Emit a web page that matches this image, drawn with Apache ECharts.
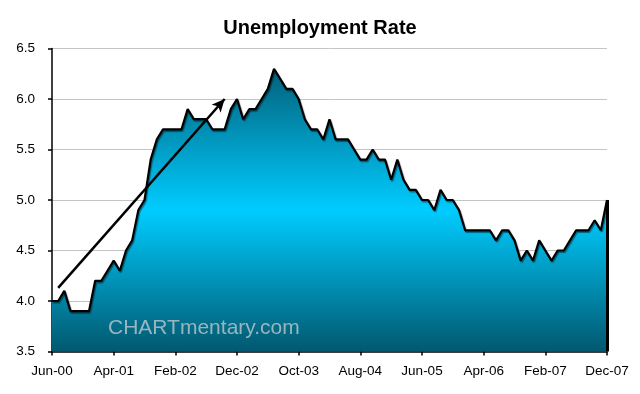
<!DOCTYPE html>
<html>
<head>
<meta charset="utf-8">
<script src="https://cdn.jsdelivr.net/npm/echarts@6/dist/echarts.min.js"></script>
<style>
html,body{margin:0;padding:0;background:#fff;}
#chart{width:640px;height:394px;}
</style>
</head>
<body>
<div id="chart"></div>
<script>
const months = ['Jun-00','Jul-00','Aug-00','Sep-00','Oct-00','Nov-00','Dec-00',
'Jan-01','Feb-01','Mar-01','Apr-01','May-01','Jun-01','Jul-01','Aug-01','Sep-01','Oct-01','Nov-01','Dec-01',
'Jan-02','Feb-02','Mar-02','Apr-02','May-02','Jun-02','Jul-02','Aug-02','Sep-02','Oct-02','Nov-02','Dec-02',
'Jan-03','Feb-03','Mar-03','Apr-03','May-03','Jun-03','Jul-03','Aug-03','Sep-03','Oct-03','Nov-03','Dec-03',
'Jan-04','Feb-04','Mar-04','Apr-04','May-04','Jun-04','Jul-04','Aug-04','Sep-04','Oct-04','Nov-04','Dec-04',
'Jan-05','Feb-05','Mar-05','Apr-05','May-05','Jun-05','Jul-05','Aug-05','Sep-05','Oct-05','Nov-05','Dec-05',
'Jan-06','Feb-06','Mar-06','Apr-06','May-06','Jun-06','Jul-06','Aug-06','Sep-06','Oct-06','Nov-06','Dec-06',
'Jan-07','Feb-07','Mar-07','Apr-07','May-07','Jun-07','Jul-07','Aug-07','Sep-07','Oct-07','Nov-07','Dec-07'];

const unemploymentRate = [4.0,4.0,4.1,3.9,3.9,3.9,3.9,
4.2,4.2,4.3,4.4,4.3,4.5,4.6,4.9,5.0,5.4,5.6,5.7,
5.7,5.7,5.7,5.9,5.8,5.8,5.8,5.7,5.7,5.7,5.9,6.0,
5.8,5.9,5.9,6.0,6.1,6.3,6.2,6.1,6.1,6.0,5.8,5.7,
5.7,5.6,5.8,5.6,5.6,5.6,5.5,5.4,5.4,5.5,5.4,5.4,
5.2,5.4,5.2,5.1,5.1,5.0,5.0,4.9,5.1,5.0,5.0,4.9,
4.7,4.7,4.7,4.7,4.7,4.6,4.7,4.7,4.6,4.4,4.5,4.4,
4.6,4.5,4.4,4.5,4.5,4.6,4.7,4.7,4.7,4.8,4.7,5.0];

const tickLabels = ['Jun-00','Apr-01','Feb-02','Dec-02','Oct-03','Aug-04','Jun-05','Apr-06','Feb-07','Dec-07'];

const yMin = 3.5, yMax = 6.5, yStep = 0.5;

// trend arrow annotation (category index, value)
const arrowStart = [1, 4.13];
const arrowEnd = [28, 6.0];

const FONT = 'Arial, "Liberation Sans", sans-serif';
const chart = echarts.init(document.getElementById('chart'), null, {renderer: 'canvas'});
const lastIdx = months.length - 1;

chart.setOption({
  animation: false,
  backgroundColor: '#ffffff',
  title: {
    text: 'Unemployment Rate',
    left: 'center',
    top: 13,
    textStyle: {fontFamily: FONT, fontSize: 20, fontWeight: 'bold', color: '#000'}
  },
  grid: {left: 52, right: 33, top: 48.5, bottom: 42.5, containLabel: false, outerBoundsMode: 'none'},
  xAxis: {
    type: 'category',
    data: months,
    boundaryGap: false,
    axisLine: {lineStyle: {color: '#000', width: 1.5}},
    axisTick: {show: true, length: 4, inside: false, interval: (i, v) => tickLabels.includes(v), lineStyle: {color: '#000', width: 1.5}},
    axisLabel: {interval: (i, v) => tickLabels.includes(v), margin: 13, fontFamily: FONT, fontSize: 13.5, color: '#000'},
    splitLine: {show: false}
  },
  yAxis: {
    type: 'value',
    min: yMin, max: yMax, interval: yStep,
    axisLine: {show: true, lineStyle: {color: '#000', width: 1.5}},
    axisTick: {show: true, length: 4, inside: false, lineStyle: {color: '#000', width: 1.5}},
    axisLabel: {margin: 17, fontFamily: FONT, fontSize: 13.5, color: '#000', formatter: v => v.toFixed(1)},
    splitLine: {show: true, lineStyle: {color: '#c4c4c4', width: 1}}
  },
  graphic: [{
    type: 'text',
    left: 108, top: 318,
    z: 100,
    style: {text: 'CHARTmentary.com', fontFamily: FONT, fontSize: 21, fill: 'rgba(190,200,205,0.8)'}
  }],
  series: [{
    type: 'line',
    data: unemploymentRate,
    symbol: 'none',
    smooth: false,
    lineStyle: {color: '#000', width: 2.2, shadowColor: 'rgba(0,0,0,0.45)', shadowOffsetX: 1, shadowOffsetY: 1.5, shadowBlur: 1},
    areaStyle: {
      origin: 'start',
      opacity: 1,
      color: new echarts.graphic.LinearGradient(0, 0, 0, 1, [
        {offset: 0, color: '#03607a'},
        {offset: 0.5, color: '#00ccff'},
        {offset: 1, color: '#02586f'}
      ])
    },
    markLine: {
      silent: true,
      animation: false,
      label: {show: false},
      data: [
        [
          {coord: arrowStart, symbol: 'none', lineStyle: {color: '#000', width: 2.5, type: 'solid'}},
          {coord: arrowEnd, symbol: 'arrow', symbolSize: [9, 13]}
        ],
        [
          {coord: [lastIdx, yMin], symbol: 'none', lineStyle: {color: '#000', width: 3, type: 'solid'}},
          {coord: [lastIdx, unemploymentRate[lastIdx]], symbol: 'none'}
        ]
      ]
    }
  }]
});
</script>
</body>
</html>
